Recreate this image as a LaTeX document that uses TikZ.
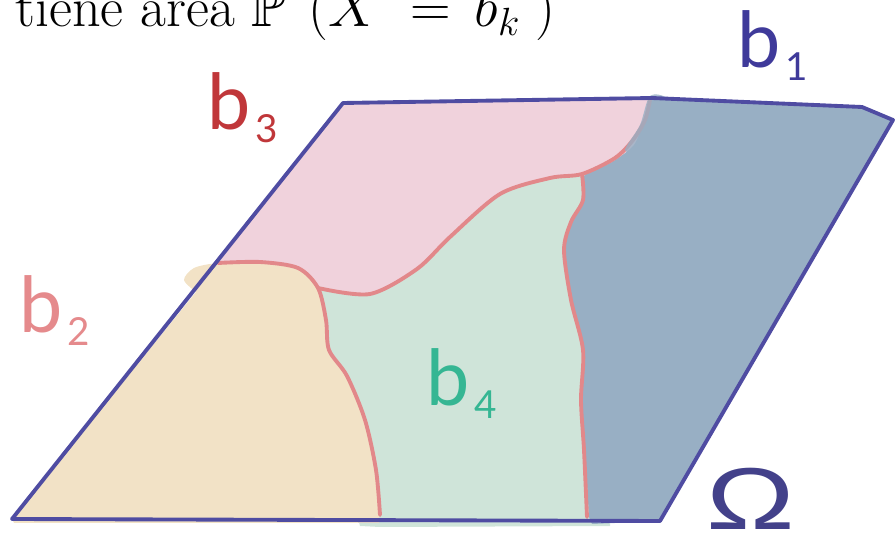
\RequirePackage{fix-cm}
\documentclass[tikz,border=0pt]{standalone}
\usepackage{amssymb}
\usepackage{fontspec}
\newfontfamily\handfont{Lato}
\newfontfamily\omegafont{Liberation Sans}
\usetikzlibrary{positioning}

\definecolor{omegablue}{HTML}{4F4CA2}
\definecolor{redline}{HTML}{E2888A}
\definecolor{pinkfill}{HTML}{F0D2DC}
\definecolor{greenfill}{HTML}{CFE4D9}
\definecolor{tanfill}{HTML}{F2E2C6}
\definecolor{bluefill}{HTML}{98AFC4}
\definecolor{bonecol}{HTML}{3F3A9A}
\definecolor{btwocol}{HTML}{E58A8C}
\definecolor{bthreecol}{HTML}{C0373A}
\definecolor{bfourcol}{HTML}{35B693}

\newcommand{\bsub}[1]{b\kern3pt\raisebox{-7pt}{\fontsize{22}{22}\selectfont #1}}

\begin{document}
\begin{tikzpicture}[
    x=0.02cm, y=-0.02cm,
    outline/.style={draw=omegablue, line width=2.2pt, line cap=round, line join=round},
    seam/.style={draw=redline, line width=2.2pt, line cap=round},
    lab/.style={inner sep=0pt, anchor=base west, font=\handfont\fontsize{44}{44}\selectfont}
  ]
    \useasboundingbox (0,0) rectangle (896,536);
    % corners of Omega
    \coordinate (BL) at (12,519);
    \coordinate (TL) at (343,103);
    \coordinate (TM) at (652,98);
    \coordinate (TR) at (893,120);
    \coordinate (BR) at (660,521);

    \node[anchor=base west, inner sep=0pt, font=\fontsize{32}{38}\selectfont]
      (title) at (15,27)
      {tiene area $\mathbb{P}\hspace{0.4em}(X\;=\hspace{0.15em}b_k\;)$};

    % regions
    \fill[pinkfill] (216,262) -- (TL) -- (700,98) -- (700,170)
      -- plot[smooth] coordinates {(582,174)
         (550,178) (500,194) (450,237) (417,269) (370,293) (330,291) (318,286)}
      -- (300,268) -- cycle;
    \fill[greenfill] (300,300)
      -- plot[smooth] coordinates {(318,286) (370,294) (417,269) (450,237) (500,194)
         (550,178) (582,174)}
      -- (610,174) -- (610,526) -- (380,527) -- (360,526) -- cycle;
    \fill[tanfill] (BL)
      -- plot[smooth] coordinates {(196,292) (184,280) (194,268) (218,263) (260,261) (298,268)
         (318,288) (326,320) (330,352) (348,378) (365,420) (375,470) (379,519)}
      -- (379,523) -- (14,523) -- cycle;
    \fill[bluefill] (TM) -- (862,106) -- (TR) -- (BR) -- (592,524)
      -- plot[smooth] coordinates {(589,517) (585,450) (582,400) (584,350) (572,300)
         (565,250) (572,222) (584,200) (584,176) (612,162) (634,145) (643,122) (652,97)}
      -- cycle;

    % seams between regions
    \draw[seam] plot[smooth] coordinates {(218,263) (260,262) (298,268) (318,288)
      (326,320) (329,350) (347,376) (365,420) (376,470) (380,515)};
    \draw[seam] plot[smooth] coordinates {(318,288) (370,294) (417,269) (450,237)
      (500,194) (550,178) (582,174) (615,158) (633,140) (645,120) (650,100)};
    \draw[seam] plot[smooth] coordinates {(582,174) (583,200) (571,222) (564,250)
      (571,300) (583,350) (581,400) (584,450) (587,517)};
    % blue spills over the seam at the top
    \fill[bluefill, opacity=0.8] plot[smooth cycle] coordinates {(650,96) (668,100)
      (660,130) (640,150) (625,150) (640,125)};

    % Omega
    \draw[outline] (BL) -- (TL) -- (TM) -- (862,107) -- (TR) -- (BR) -- cycle;

    % labels
    \node[lab, text=bonecol] (lb1) at (737,68) {\bsub{1}};
    \node[lab, text=bthreecol] (lb3) at (207,130) {\bsub{3}};
    \node[lab, text=btwocol] (lb2) at (19,333) {\bsub{2}};
    \node[lab, text=bfourcol] (lb4) at (426,406) {\bsub{4}};
    \node[lab, font=\omegafont\fontsize{50}{50}\selectfont, text=omegablue!85!black,
          xscale=1.35] (lomega) at (706,530) {Ω};
\end{tikzpicture}
\end{document}
